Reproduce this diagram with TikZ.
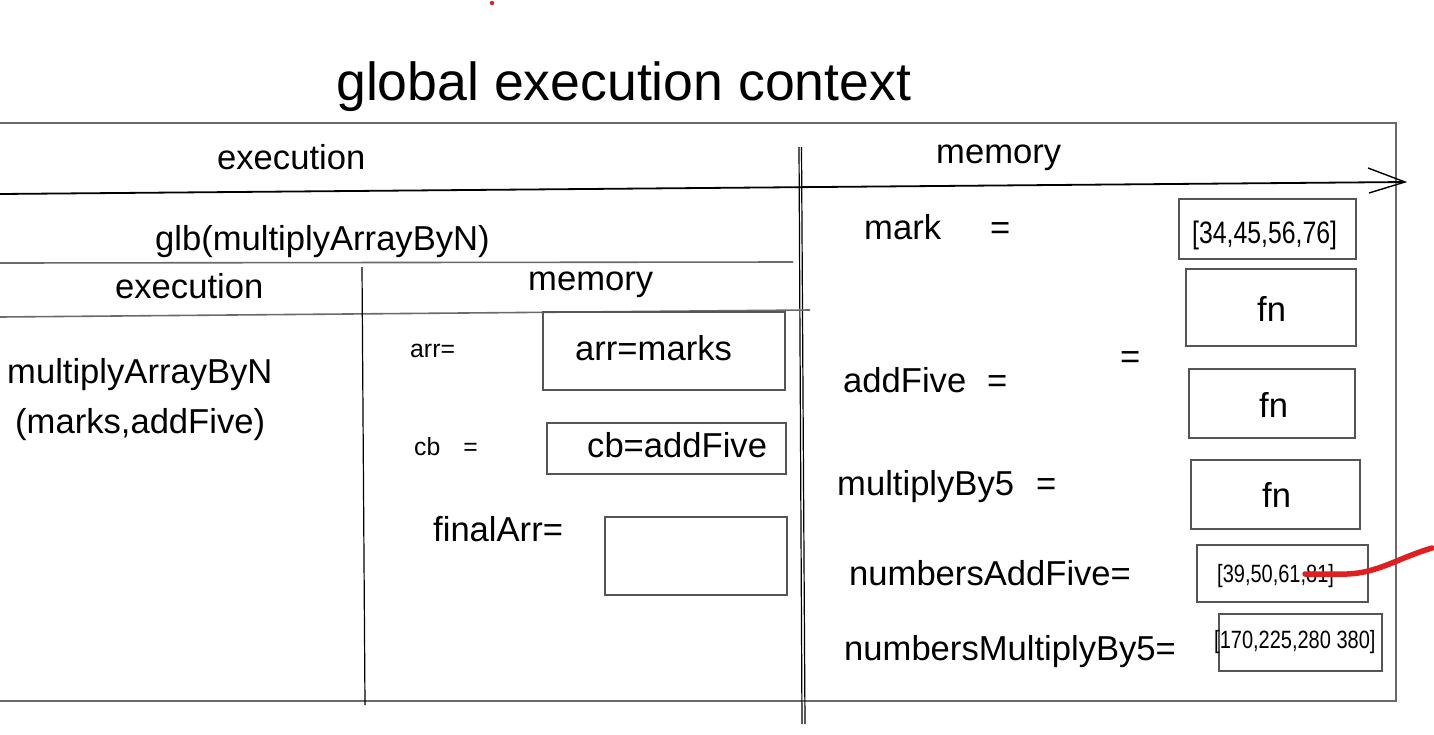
\documentclass[tikz,border=0pt]{standalone}
\usepackage{fontspec}
\setmainfont{Liberation Sans}
\definecolor{boxgray}{HTML}{555555}
\definecolor{rulegray}{HTML}{6A6A6A}
\definecolor{penred}{HTML}{E02020}
\tikzset{
  txt/.style={inner sep=0pt, anchor=base west, font=\fontsize{34.6}{40}\selectfont},
  bigtxt/.style={txt, font=\fontsize{53.6}{60}\selectfont},
  smalltxt/.style={txt, font=\fontsize{24.8}{28}\selectfont},
  numtxt/.style={txt, font=\fontsize{25}{28}\selectfont},
  numbig/.style={txt, font=\fontsize{31}{34}\selectfont},
  valbox/.style={draw=boxgray, line width=1.6pt, inner sep=0pt},
  rule/.style={draw=rulegray, line width=1.6pt},
  darkrule/.style={draw=black, line width=1.2pt},
  redpen/.style={draw=penred, line width=5.5pt, line cap=round, line join=round}
}
\newcommand{\narrow}[1]{\scalebox{0.8}[1]{#1}}
\begin{document}
\begin{tikzpicture}[x=1pt,y=-1pt]
\useasboundingbox (0,0) rectangle (1434,734);

% frame coordinates
\coordinate (tl) at (0,123);
\coordinate (tr) at (1396,123);
\coordinate (br) at (1396,701);
\coordinate (bl) at (0,701);
\draw[rule] (tl) -- (tr) -- (br) -- (bl);

% arrow
\coordinate (aS) at (0,194);
\coordinate (aT) at (1405,182);
\coordinate (aU) at (1368,168);
\coordinate (aL) at (1369,193);
\draw[black, line width=1.8pt] (aS) -- (aT);
\draw[black, line width=1.4pt] (aU) -- (aT) -- (aL);

% main divider (sketchy double line)
\coordinate (d1t) at (799,147);
\coordinate (d1b) at (802,724);
\coordinate (d2t) at (801.5,147);
\coordinate (d2b) at (805,724);
\draw[darkrule] (d1t) -- (d1b);
\draw[darkrule] (d2t) -- (d2b);

% inner structure
\coordinate (g1) at (0,263);
\coordinate (g2) at (793,262);
\draw[rule] (g1) -- (g2);
\coordinate (h1) at (0,317);
\coordinate (h2) at (810,310);
\draw[rule] (h1) -- (h2);
\coordinate (v1) at (362,267);
\coordinate (v2) at (365,705);
\draw[darkrule] (v1) -- (v2);

% title & headers
\node[bigtxt] (title) at (336,100) {global execution context};
\node[txt] (exec) at (217,169) {execution};
\node[txt] (mem) at (936,163) {memory};
\node[txt] (glb) at (155,250) {glb(multiplyArrayByN)};
\node[txt] (iexec) at (115,298) {execution};
\node[txt] (imem) at (528,290) {memory};

% inner execution
\node[txt] (call1) at (7,383) {multiplyArrayByN};
\node[txt] (call2) at (15,433) {(marks,addFive)};

% inner memory
\node[smalltxt] (arrl) at (410,357) {arr=};
\node[smalltxt] (cbl) at (414,455) {cb\hspace{23pt}=};
\node[txt] (finl) at (433,541) {finalArr=};
\node[valbox, minimum width=242pt, minimum height=78pt] (barr) at (664,351) {};
\node[valbox, minimum width=239pt, minimum height=51pt] (bcb) at (666.5,448.5) {};
\node[valbox, minimum width=182pt, minimum height=78pt] (bfin) at (696,556) {};
\node[txt] (arrv) at (575,360) {arr=marks};
\node[txt] (cbv) at (587,457) {cb=addFive};

% global memory labels
\node[txt] (markl) at (864,239) {mark};
\node[txt] (markeq) at (990,239) {=};
\node[txt] (addl) at (843,392) {addFive};
\node[txt] (addeq) at (987,392) {=};
\node[txt] (looseeq) at (1120,368) {=};
\node[txt] (mull) at (837,495) {multiplyBy5};
\node[txt] (muleq) at (1036,495) {=};
\node[txt] (nadd) at (849,585) {numbersAddFive=};
\node[txt] (nmul) at (844,660) {numbersMultiplyBy5=};

% global memory boxes
\node[valbox, minimum width=177pt, minimum height=60pt] (bmark) at (1267.5,229) {};
\node[valbox, minimum width=170pt, minimum height=77pt] (bfn1) at (1271,307.5) {};
\node[valbox, minimum width=166pt, minimum height=69pt] (bfn2) at (1272,403.5) {};
\node[valbox, minimum width=169pt, minimum height=69pt] (bfn3) at (1275.5,494.5) {};
\node[valbox, minimum width=171pt, minimum height=57pt] (badd) at (1282.5,573.5) {};
\node[valbox, minimum width=163pt, minimum height=57pt] (bmul) at (1300.5,642.5) {};

\node[numbig] (vmark) at (1192,243) {\narrow{[34,45,56,76]}};
\node[txt] (vfn1) at (1257,321) {fn};
\node[txt] (vfn2) at (1259,417) {fn};
\node[txt] (vfn3) at (1262,507) {fn};
\node[numtxt] (vadd) at (1217,582) {\narrow{[39,50,61,81]}};
\node[numtxt] (vmul) at (1214,648) {\narrow{[170,225,280 380]}};

% red pen marks
\coordinate (r1) at (1305,574);
\coordinate (r2) at (1347,574);
\coordinate (r3) at (1432,548);
\draw[redpen] (r1) -- (r2) .. controls (1378,573) and (1398,558) .. (r3);
\fill[penred] (492,3) circle (2.2);
\end{tikzpicture}
\end{document}
